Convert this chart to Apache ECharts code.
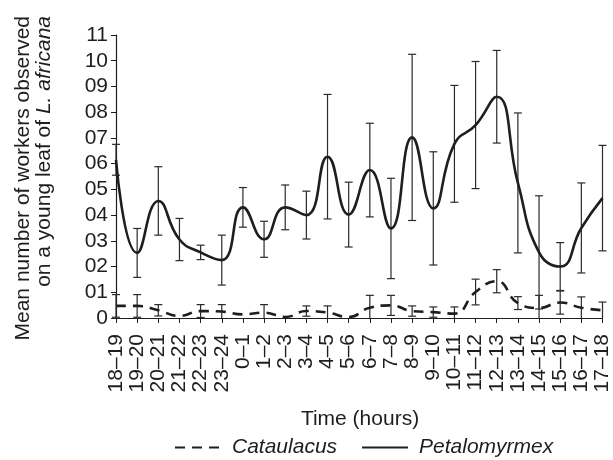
<!DOCTYPE html>
<html>
<head>
<meta charset="utf-8">
<script src="https://cdn.jsdelivr.net/npm/echarts@6/dist/echarts.min.js"></script>
<style>
html,body{margin:0;padding:0;background:#fff;}
#chart{width:613px;height:460px;}
</style>
</head>
<body>
<div id="chart"></div>
<script>
const categories = ['18\u201319','19\u201320','20\u201321','21\u201322','22\u201323','23\u201324','0\u20131','1\u20132','2\u20133','3\u20134','4\u20135','5\u20136','6\u20137','7\u20138','8\u20139','9\u201310','10\u201311','11\u201312','12\u201313','13\u201314','14\u201315','15\u201316','16\u201317','17\u201318'];
const yTickLabels = ['0','01','02','03','04','05','06','07','08','09','10','11'];
const petaloMean = [6.15,2.53,4.55,3.05,2.55,2.25,4.3,3.06,4.3,4.0,6.27,4.02,5.75,3.48,7.02,4.26,6.77,7.5,8.6,5.25,2.55,2.0,3.5,4.66];
const petaloErr  = [0.6,0.95,1.33,0.82,0.28,0.97,0.77,0.7,0.87,0.93,2.42,1.26,1.82,1.95,3.23,2.2,2.27,2.47,1.8,2.72,2.2,0.93,1.75,2.05];
const cataMean = [0.47,0.47,0.3,0.08,0.27,0.25,0.14,0.21,0.04,0.27,0.21,0.04,0.4,0.49,0.27,0.23,0.17,1.01,1.43,0.58,0.39,0.6,0.4,0.3];
const cataErr  = [0.44,0.44,0.22,0,0.25,0.27,0,0.31,0,0.2,0.26,0,0.48,0.39,0.2,0.2,0.26,0.5,0.45,0.25,0.49,0.45,0.42,0.32];

const FONT = 'Arial, "Liberation Sans", Helvetica, sans-serif';
const INK = '#1e1e1e';

function errData(means, errs){
  return means.map((m,i)=>[i, m, errs[i]]);
}
function renderErr(params, api){
  const x = api.value(0), m = api.value(1), e = api.value(2);
  if (!(e > 0)) return null;
  const lo = Math.max(0, m - e);
  const top = api.coord([x, m + e]);
  const bot = api.coord([x, lo]);
  const hw = 4;
  const st = {stroke:'#2a2a2a', lineWidth:1.2};
  const children = [
    {type:'line', shape:{x1:top[0], y1:top[1], x2:bot[0], y2:bot[1]}, style:st},
    {type:'line', shape:{x1:top[0]-hw, y1:top[1], x2:top[0]+hw, y2:top[1]}, style:st}
  ];
  if (m - e > 0) children.push({type:'line', shape:{x1:bot[0]-hw, y1:bot[1], x2:bot[0]+hw, y2:bot[1]}, style:st});
  return {type:'group', children};
}

const chart = echarts.init(document.getElementById('chart'), null, {renderer:'canvas'});
chart.setOption({
  animation:false,
  backgroundColor:'#fff',
  grid:{left:116, right:9, top:35, bottom:142},
  legend:{
    data:['Cataulacus','Petalomyrmex'],
    left:174, top:437, padding:0,
    itemWidth:46, itemHeight:14, itemGap:24,
    itemStyle:{color:'rgba(0,0,0,0)', borderWidth:0, opacity:0},
    textStyle:{fontFamily:FONT, fontStyle:'italic', fontSize:21, color:INK, padding:[0,0,0,6]}
  },
  xAxis:{
    type:'category', data:categories, boundaryGap:false,
    axisLine:{lineStyle:{color:INK, width:1.2}},
    axisTick:{show:true, length:5, interval:0, lineStyle:{color:INK}},
    axisLabel:{rotate:90, interval:0, margin:16, fontFamily:FONT, fontSize:21, color:INK}
  },
  yAxis:{
    type:'value', min:0, max:11, interval:1,
    splitLine:{show:false},
    axisLine:{show:true, lineStyle:{color:INK, width:1.2}},
    axisTick:{show:true, length:5, lineStyle:{color:INK}},
    axisLabel:{margin:8, fontFamily:FONT, fontSize:21, color:INK,
      formatter:(v)=>yTickLabels[Math.round(v)]}
  },
  graphic:[
    {type:'text', x:23, y:16, rotation:Math.PI/2,
      style:{text:'Mean number of workers observed', x:0, y:0, align:'right', verticalAlign:'middle',
        font:'21px ' + FONT, fill:INK}},
    {type:'text', x:44, y:16, rotation:Math.PI/2,
      style:{text:'on a young leaf of {i|L. africana}', x:0, y:0, align:'right', verticalAlign:'middle',
        fontFamily:FONT, fontSize:21, fill:INK,
        rich:{i:{fontFamily:FONT, fontSize:21, fontStyle:'italic', fill:INK}}}},
    {type:'text', x:360, y:419,
      style:{text:'Time (hours)', x:0, y:0, align:'center', verticalAlign:'middle',
        font:'21px ' + FONT, fill:INK}}
  ],
  series:[
    {name:'Cataulacus', type:'line', data:cataMean, smooth:0.5, symbol:'none', z:3,
      lineStyle:{color:INK, width:2.6, type:[10,7]}, itemStyle:{color:INK}},
    {name:'Petalomyrmex', type:'line', data:petaloMean, smooth:0.5, symbol:'none', z:3,
      lineStyle:{color:INK, width:2.6}, itemStyle:{color:INK}},
    {name:'CataErr', type:'custom', data:errData(cataMean, cataErr), renderItem:renderErr, z:2,
      encode:{x:0, y:1}},
    {name:'PetaloErr', type:'custom', data:errData(petaloMean, petaloErr), renderItem:renderErr, z:2,
      encode:{x:0, y:1}}
  ]
});
</script>
</body>
</html>
